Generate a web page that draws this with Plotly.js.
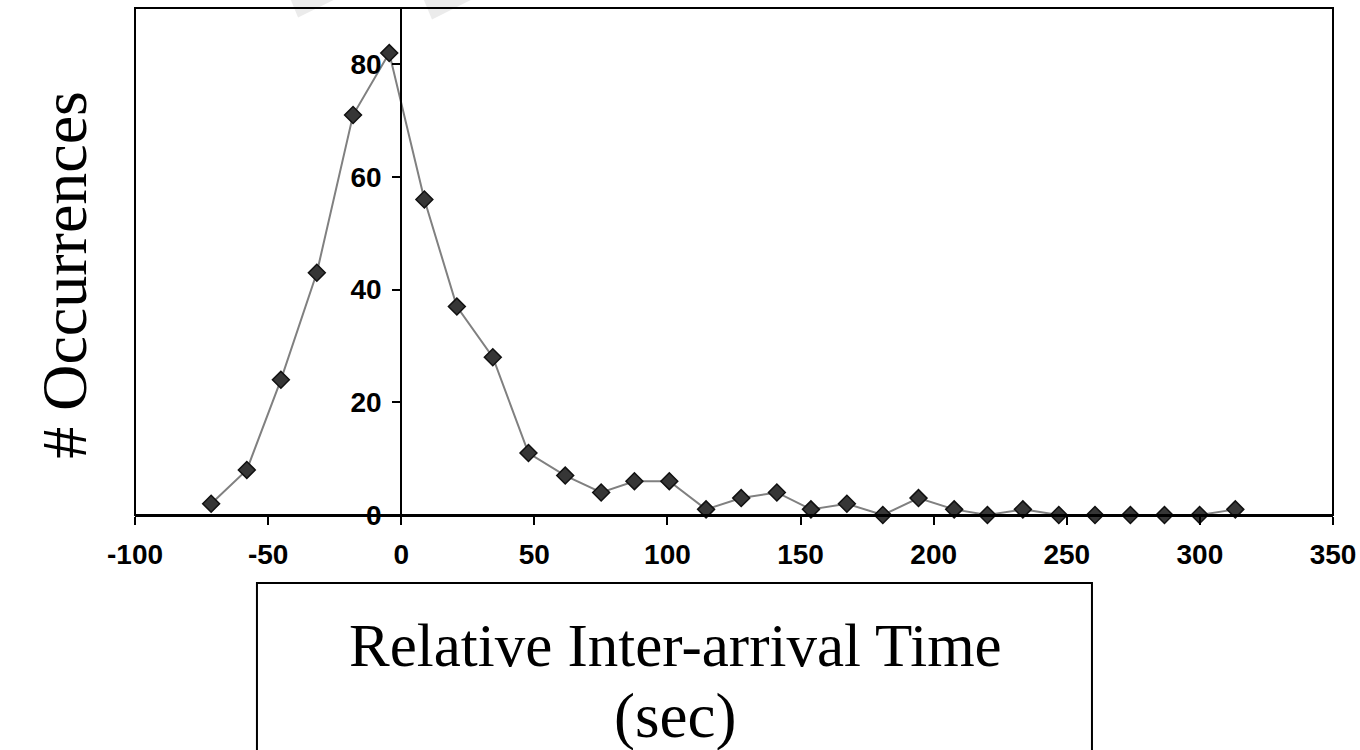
<!DOCTYPE html>
<html>
<head>
<meta charset="utf-8">
<script src="https://cdn.plot.ly/plotly-3.0.1.min.js"></script>
<style>
  html, body { margin: 0; padding: 0; background: #ffffff; }
  #chart { width: 1360px; height: 750px; }
</style>
</head>
<body>
<div id="chart"></div>
<script>
// Bin centres (relative inter-arrival time, sec)
const relTime = [-71.4, -58.0, -45.2, -31.7, -18.1, -4.5, 8.7, 20.9, 34.4, 47.8,
                 61.6, 75.1, 87.6, 100.7, 114.5, 127.7, 141.1, 153.9, 167.4, 180.9,
                 194.3, 207.7, 220.2, 233.5, 247.0, 260.6, 273.9, 286.7, 299.9, 313.3];
// Number of occurrences per bin
const occurrences = [2, 8, 24, 43, 71, 82, 56, 37, 28, 11,
                     7, 4, 6, 6, 1, 3, 4, 1, 2, 0,
                     3, 1, 0, 1, 0, 0, 0, 0, 0, 1];
const xTickVals = [-100, -50, 0, 50, 100, 150, 200, 250, 300, 350];
const yTickVals = [0, 20, 40, 60, 80];
const xTitleLines = ["Relative Inter-arrival Time", "(sec)"];
const yTitle = "# Occurrences";

const trace = {
  x: relTime,
  y: occurrences,
  type: 'scatter',
  mode: 'lines+markers',
  line: { color: '#808080', width: 2 },
  marker: { symbol: 'diamond', size: 13, color: '#363636', line: { color: '#111111', width: 1.5 } },
  cliponaxis: false,
  hoverinfo: 'x+y'
};

const tickFont = { family: 'Liberation Sans, Arial, sans-serif', size: 28, color: '#000000', weight: 'bold' };
const serif = 'Liberation Serif, Times New Roman, serif';

const layout = {
  width: 1360, height: 750,
  margin: { l: 135, r: 27, t: 8, b: 235, pad: 0 },
  paper_bgcolor: '#ffffff', plot_bgcolor: '#ffffff',
  showlegend: false,
  xaxis: {
    range: [-100, 350],
    tickvals: xTickVals,
    ticktext: xTickVals.map(String),
    showgrid: false, zeroline: false,
    showline: true, linecolor: '#000000', linewidth: 2,
    ticks: 'outside', ticklen: 8, tickwidth: 2, tickcolor: '#000000',
    tickfont: tickFont,
    ticklabelstandoff: 5
  },
  yaxis: {
    range: [0, 90],
    tickvals: yTickVals,
    ticktext: yTickVals.map(String),
    anchor: 'free', position: 100 / 450,
    showgrid: false, zeroline: false,
    showline: true, linecolor: '#000000', linewidth: 2,
    ticks: 'outside', ticklen: 8, tickwidth: 2, tickcolor: '#000000',
    tickfont: tickFont,
    ticklabelstandoff: 5
  },
  shapes: [
    { type: 'path', xref: 'paper', yref: 'paper', layer: 'below',
      path: 'M 0.1294 1.02 L 0.1694 1.02 L 0.1361 0.9813 Z',
      fillcolor: '#ebebeb', line: { width: 0 } },
    { type: 'path', xref: 'paper', yref: 'paper', layer: 'below',
      path: 'M 0.2404 1.02 L 0.2838 1.02 L 0.2479 0.9773 Z',
      fillcolor: '#ebebeb', line: { width: 0 } },
    { type: 'rect', xref: 'paper', yref: 'paper', x0: 0, x1: 1, y0: 0, y1: 1,
      line: { color: '#000000', width: 2 }, fillcolor: 'rgba(0,0,0,0)' },
    { type: 'rect', xref: 'paper', yref: 'paper', x0: 0.1018, x1: 0.7988, y0: -0.50, y1: -0.1343,
      line: { color: '#000000', width: 2 }, fillcolor: 'rgba(0,0,0,0)' }
  ],
  annotations: [
    { xref: 'paper', yref: 'paper', x: (675 - 135) / 1198, y: (515 - 645) / 506.5,
      xanchor: 'center', yanchor: 'middle', showarrow: false,
      text: xTitleLines[0], font: { family: serif, size: 61, color: '#000000' } },
    { xref: 'paper', yref: 'paper', x: (675 - 135) / 1198, y: (515 - 716) / 506.5,
      xanchor: 'center', yanchor: 'middle', showarrow: false,
      text: xTitleLines[1], font: { family: serif, size: 63, color: '#000000' } },
    { xref: 'paper', yref: 'paper', x: (65 - 135) / 1198, y: (515 - 275) / 506.5,
      xanchor: 'center', yanchor: 'middle', showarrow: false, textangle: -90,
      text: yTitle, font: { family: serif, size: 64, color: '#000000' } }
  ]
};

Plotly.newPlot('chart', [trace], layout, { displayModeBar: false, staticPlot: true });
</script>
</body>
</html>
